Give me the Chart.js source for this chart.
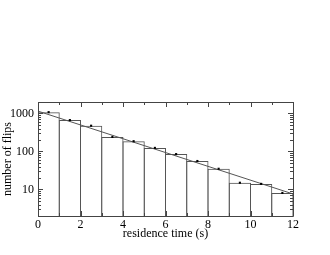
<!DOCTYPE html>
<html>
<head>
<meta charset="utf-8">
<script src="https://cdn.jsdelivr.net/npm/chart.js@4/dist/chart.umd.min.js"></script>
<style>
html,body{margin:0;padding:0;background:#fff;}
#wrap{width:330px;height:255px;position:relative;}
</style>
</head>
<body>
<div id="wrap"><canvas id="c" width="330" height="255"></canvas></div>
<script>
// Histogram bins (residence time, s) and counts
const binCenters = [0.5, 1.5, 2.5, 3.5, 4.5, 5.5, 6.5, 7.5, 8.5, 9.5, 10.5, 11.5];
const counts = [1080, 668, 475, 241, 186, 124, 85, 56, 35, 15, 14, 8.1];
// Exponential fit line endpoints
const fitX = [0, 12];
const fitY = [1150, 7.6];
// Tick labels
const xTickLabels = [0, 2, 4, 6, 8, 10, 12];
const yTickLabels = [10, 100, 1000];
const xMinorTicks = [0,1,2,3,4,5,6,7,8,9,10,11,12];

const FONT = {family: '"Liberation Serif", "DejaVu Serif", serif', size: 12};
const PX_PER_BIN = 255 / 12;

const framePlugin = {
  id: 'frame',
  afterDatasetsDraw(chart) {
    const ctx = chart.ctx, a = chart.chartArea;
    const xs = chart.scales.x, ys = chart.scales.y;
    ctx.save();
    ctx.strokeStyle = '#444';
    ctx.lineWidth = 1;
    ctx.beginPath();
    ctx.rect(Math.round(a.left) + 0.5, Math.round(a.top) + 0.5,
             Math.round(a.right - a.left), Math.round(a.bottom - a.top));
    ctx.stroke();
    ctx.beginPath();
    xMinorTicks.forEach(v => {
      const px = Math.round(xs.getPixelForValue(v)) + 0.5;
      const len = xTickLabels.includes(v) ? 5 : 3;
      ctx.moveTo(px, a.bottom); ctx.lineTo(px, a.bottom - len);
      ctx.moveTo(px, a.top); ctx.lineTo(px, a.top + len);
    });
    ys.ticks.forEach(t => {
      const py = Math.round(ys.getPixelForValue(t.value)) + 0.5;
      const len = yTickLabels.includes(t.value) ? 5 : 3;
      ctx.moveTo(a.left, py); ctx.lineTo(a.left + len, py);
      ctx.moveTo(a.right, py); ctx.lineTo(a.right - len, py);
    });
    ctx.stroke();
    ctx.restore();
  }
};

new Chart(document.getElementById('c'), {
  data: {
    datasets: [
      {
        type: 'bar',
        data: binCenters.map((x, i) => ({x: x, y: counts[i]})),
        backgroundColor: 'rgba(255,255,255,0)',
        borderColor: '#555',
        borderWidth: {top: 1, left: 1, right: 1, bottom: 0},
        borderSkipped: false,
        barPercentage: 1 + 1 / PX_PER_BIN,
        categoryPercentage: 1,
        grouped: false,
        order: 3
      },
      {
        type: 'line',
        data: fitX.map((x, i) => ({x: x, y: fitY[i]})),
        borderColor: '#555',
        borderWidth: 1,
        pointRadius: 0,
        fill: false,
        order: 2
      },
      {
        type: 'scatter',
        data: binCenters.map((x, i) => ({x: x, y: counts[i]})),
        pointStyle: 'rect',
        pointRadius: 1.5,
        backgroundColor: '#000',
        borderColor: '#000',
        borderWidth: 0,
        order: 1
      }
    ]
  },
  options: {
    responsive: false,
    animation: false,
    events: [],
    layout: {padding: {left: 0, right: 37, top: 102, bottom: 0}},
    plugins: {legend: {display: false}, tooltip: {enabled: false}},
    scales: {
      x: {
        type: 'linear',
        min: 0, max: 12,
        offset: false,
        grid: {display: false, offset: false, drawTicks: false},
        border: {display: false},
        afterBuildTicks: s => { s.ticks = xTickLabels.map(v => ({value: v})); },
        afterFit: s => { s.height = 39; },
        ticks: {font: FONT, color: '#000', padding: 2, maxRotation: 0, autoSkip: false,
                callback: v => String(v)},
        title: {display: true, text: 'residence time (s)', font: FONT, color: '#000',
                padding: {top: 0, bottom: 14}}
      },
      y: {
        type: 'logarithmic',
        min: 2, max: 2000,
        grid: {display: false, drawTicks: false},
        border: {display: false},
        afterBuildTicks: s => {
          const t = [];
          [1, 10, 100, 1000].forEach(d => {
            for (let m = 1; m <= 9; m++) {
              const v = d * m;
              if (v >= 2 && v <= 2000) t.push({value: v});
            }
          });
          s.ticks = t;
        },
        afterFit: s => { s.width = 38; },
        ticks: {font: FONT, color: '#000', padding: 4, autoSkip: false,
                callback: v => yTickLabels.includes(v) ? String(v) : ''},
        title: {display: true, text: 'number of flips', font: FONT, color: '#000',
                padding: {top: 1, bottom: 0}}
      }
    }
  },
  plugins: [framePlugin]
});
</script>
</body>
</html>
